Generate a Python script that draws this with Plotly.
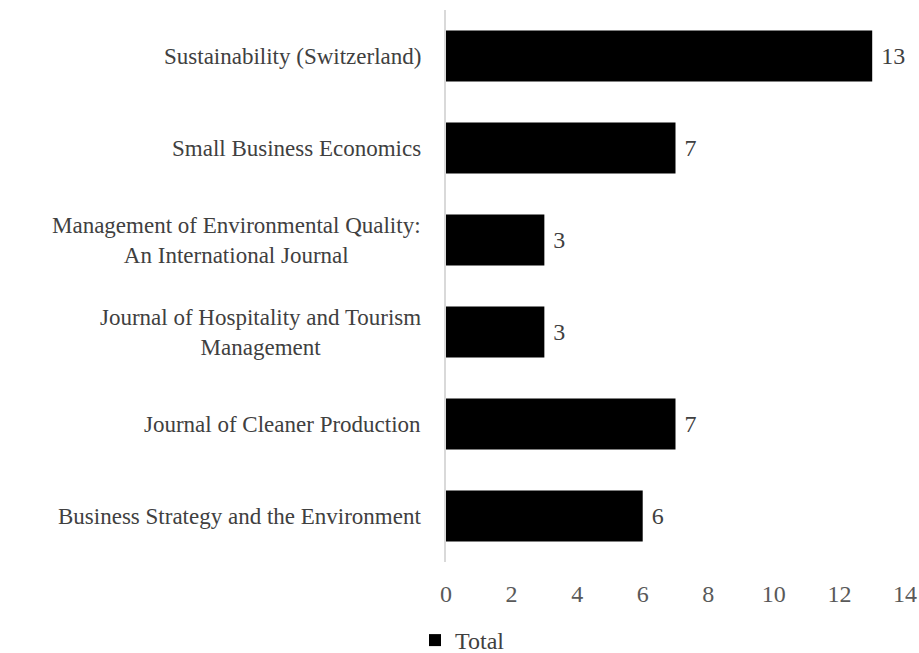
import plotly.graph_objects as go

categories = [
    "Business Strategy and the Environment",
    "Journal of Cleaner Production",
    "Journal of Hospitality and Tourism<br>Management",
    "Management of Environmental Quality:<br>An International Journal",
    "Small Business Economics",
    "Sustainability (Switzerland)",
]
values = [6, 7, 3, 3, 7, 13]
x_ticks = [0, 2, 4, 6, 8, 10, 12, 14]
series_name = "Total"

FONT = "Liberation Serif, Times New Roman, serif"
FS = 24

fig = go.Figure()
fig.add_trace(go.Bar(
    y=categories, x=values, orientation="h", name=series_name,
    marker=dict(color="#000000", line=dict(width=0)),
    width=0.555,
    texttemplate="\u00a0%{x}", textposition="outside",
    textfont=dict(family=FONT, size=FS, color="#404040"),
    cliponaxis=False, showlegend=True,
))

for c in categories:
    fig.add_annotation(
        x=0, xref="paper", y=c, yref="y", xshift=-23,
        text=c, showarrow=False, xanchor="right", yanchor="middle",
        align="center", font=dict(family=FONT, size=23, color="#404040"),
    )

fig.update_layout(
    width=919, height=653,
    margin=dict(l=446, r=14, t=10, b=91, autoexpand=False),
    paper_bgcolor="white", plot_bgcolor="white",
    font=dict(family=FONT, color="#404040"),
    bargap=0.445,
    legend=dict(orientation="h", xref="container", yref="container",
                x=415 / 919, xanchor="left", y=1 - 618 / 653, yanchor="top",
                font=dict(family=FONT, size=FS, color="#404040"),
                itemwidth=30),
    showlegend=True,
)
fig.update_xaxes(range=[0, 14], tickvals=x_ticks, showgrid=False, zeroline=False,
                 showline=False, ticks="", ticklabelstandoff=15, automargin=False,
                 tickfont=dict(family=FONT, size=FS, color="#595959"))
fig.update_yaxes(showticklabels=False, showgrid=False, zeroline=False,
                 showline=True, linecolor="#d9d9d9", linewidth=2, ticks="",
                 automargin=False,
                 categoryorder="array", categoryarray=categories)

fig.write_html("out.html", config={"displayModeBar": False},
               post_script="document.body.style.margin='0';document.body.style.overflow='hidden';")
